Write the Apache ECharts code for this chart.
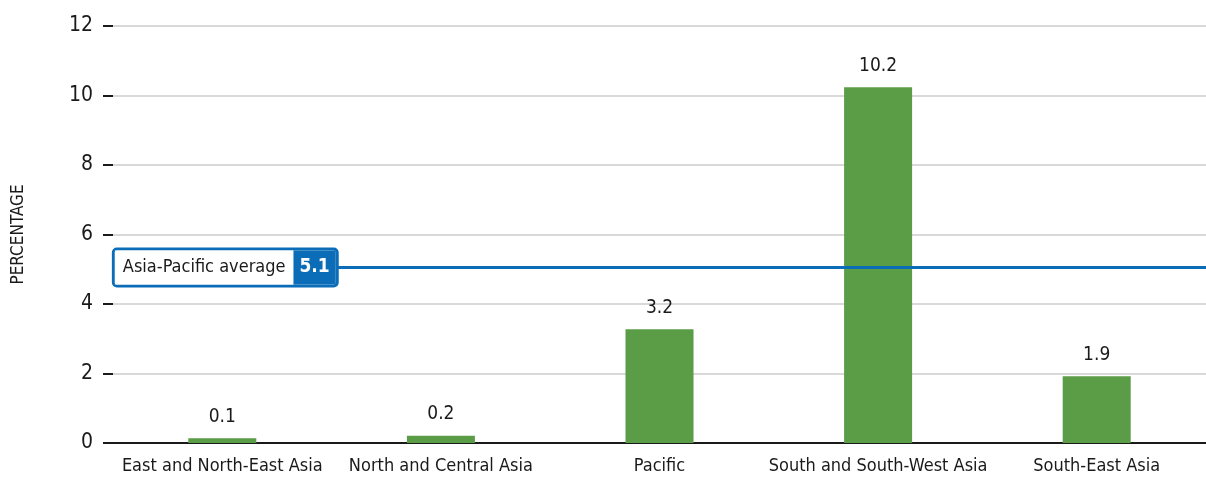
<!DOCTYPE html>
<html>
<head>
<meta charset="utf-8">
<script src="https://cdn.jsdelivr.net/npm/echarts@6/dist/echarts.min.js"></script>
<style>
  html, body { margin: 0; padding: 0; background: #fff; }
  #chart { width: 1206px; height: 479px; }
</style>
</head>
<body>
<div id="chart"></div>
<script>
// data
const regions = ['East and North-East Asia', 'North and Central Asia', 'Pacific', 'South and South-West Asia', 'South-East Asia']
const shares = [0.14, 0.21, 3.27, 10.24, 1.92]
const shareLabels = ['0.1', '0.2', '3.2', '10.2', '1.9']
const average = 5.05
const averageLabel = '5.1'
const yTicks = [0, 2, 4, 6, 8, 10, 12]

const font = "'DejaVu Sans Condensed', 'Liberation Sans Narrow', sans-serif"
const blue = '#0b6db7'

const chart = echarts.init(document.getElementById('chart'))
const option = {
  animation: false,
  grid: { left: 113, top: 26, width: 1104, height: 417 },
  xAxis: {
    type: 'category',
    data: regions,
    axisLine: { show: true, lineStyle: { color: '#1a1a1a', width: 2 } },
    axisTick: { show: false },
    axisLabel: { interval: 0, color: '#1a1a1a', fontFamily: font, fontSize: 18, margin: 14 }
  },
  yAxis: {
    type: 'value',
    min: yTicks[0],
    max: yTicks[yTicks.length - 1],
    interval: 2,
    name: 'PERCENTAGE',
    nameLocation: 'middle',
    nameRotate: 90,
    nameGap: 86,
    nameTextStyle: { color: '#1a1a1a', fontFamily: font, fontSize: 17 },
    axisLine: { show: false },
    axisTick: { show: true, inside: false, length: 10, lineStyle: { color: '#1a1a1a', width: 2 } },
    axisLabel: { color: '#1a1a1a', fontFamily: font, fontSize: 21, margin: 20 },
    splitLine: { lineStyle: { color: '#d9d9d9', width: 2 } }
  },
  series: [
    {
      type: 'bar',
      data: shares,
      barWidth: 68,
      itemStyle: { color: '#5b9c47' },
      label: {
        show: true,
        position: 'top',
        distance: 12,
        color: '#1a1a1a',
        fontFamily: font,
        fontSize: 19,
        formatter: p => shareLabels[p.dataIndex]
      },
      markLine: {
        silent: true,
        symbol: 'none',
        label: { show: false },
        lineStyle: { color: blue, width: 3, type: 'solid' },
        data: [{ yAxis: average }]
      },
      markPoint: {
        silent: true,
        symbol: 'rect',
        symbolSize: 0,
        data: [{ coord: [regions[0], average] }],
        label: {
          show: true,
          position: 'inside',
          offset: [3, 0],
          formatter: '{a|Asia-Pacific average}{b|' + averageLabel + '}',
          backgroundColor: '#fff',
          borderColor: blue,
          borderWidth: 3,
          borderRadius: 2,
          padding: 0,
          rich: {
            a: { fontFamily: font, fontSize: 18, color: '#1a1a1a', height: 34, padding: [0, 8, 0, 8], backgroundColor: '#fff' },
            b: { fontFamily: font, fontSize: 19, fontWeight: 'bold', color: '#fff', height: 34, padding: [0, 6, 0, 6], backgroundColor: blue }
          }
        }
      }
    }
  ]
}
chart.setOption(option)
</script>
</body>
</html>
